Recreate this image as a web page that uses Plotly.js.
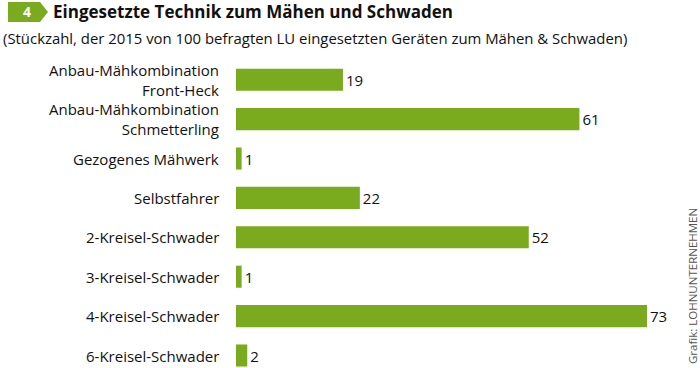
<!DOCTYPE html>
<html><head><meta charset="utf-8">
<script src="https://cdn.plot.ly/plotly-3.0.1.min.js"></script>
<style>html,body{margin:0;padding:0;background:#fff}#c{width:700px;height:368px}</style>
</head><body><div id="c"></div>
<script>
const categories = [
  "Anbau-Mähkombination<br>Front-Heck",
  "Anbau-Mähkombination<br>Schmetterling",
  "Gezogenes Mähwerk",
  "Selbstfahrer",
  "2-Kreisel-Schwader",
  "3-Kreisel-Schwader",
  "4-Kreisel-Schwader",
  "6-Kreisel-Schwader"
];
const values = [19, 61, 1, 22, 52, 1, 73, 2];
const titleText = "Eingesetzte Technik zum Mähen und Schwaden";
const subtitleText = "(Stückzahl, der 2015 von 100 befragten LU eingesetzten Geräten zum Mähen & Schwaden)";
const badgeText = "4";
const sourceText = "Grafik: LOHNUNTERNEHMEN";

const W = 700, H = 368, ML = 236, MR = 40, MT = 60, MB = 0;
const PW = W - ML - MR, PH = H - MT - MB;
const px = x => (x - ML) / PW;
const py = y => (H - MB - y) / PH;
const green = "#7aab1f";
const font = "'Open Sans', Lato, sans-serif";

const trace = {
  type: "bar", orientation: "h",
  y: categories, x: values,
  marker: {color: green},
  width: 0.56,
  text: values.map(String),
  textposition: "outside",
  textfont: {family: font, size: 15, color: "#111"},
  cliponaxis: false,
  hoverinfo: "skip"
};

const catLabels = categories.map(c => ({
  text: c, xref: "paper", yref: "y", x: px(221), y: c,
  xanchor: "right", yanchor: "middle", align: "right", showarrow: false,
  font: {family: font, size: 15, color: "#111"}
}));

const layout = {
  width: W, height: H,
  margin: {l: ML, r: MR, t: MT, b: MB, pad: 0},
  paper_bgcolor: "#fff", plot_bgcolor: "#fff",
  showlegend: false,
  xaxis: {range: [0, PW / 5.63], visible: false, fixedrange: true},
  yaxis: {
    type: "category", categoryorder: "array", categoryarray: categories,
    range: [-0.5 + PH / 39.4, -0.5],
    showgrid: false, zeroline: false, showline: false, ticks: "",
    showticklabels: false
  },
  shapes: [{
    type: "path", xref: "paper", yref: "paper",
    path: `M ${px(8)} ${py(2)} L ${px(40)} ${py(2)} L ${px(48)} ${py(12)} L ${px(40)} ${py(22)} L ${px(8)} ${py(22)} Z`,
    fillcolor: green, line: {width: 0}
  }],
  annotations: [
    {text: "<b>" + badgeText + "</b>", xref: "paper", yref: "paper", x: px(27), y: py(12),
     xanchor: "center", yanchor: "middle", showarrow: false,
     font: {family: font, size: 14, color: "#fff"}},
    {text: "<b>" + titleText + "</b>", xref: "paper", yref: "paper", x: px(51), y: py(12),
     xanchor: "left", yanchor: "middle", showarrow: false,
     font: {family: font, size: 17, color: "#111"}},
    {text: subtitleText, xref: "paper", yref: "paper", x: px(1), y: py(38),
     xanchor: "left", yanchor: "middle", showarrow: false,
     font: {family: font, size: 14.9, color: "#111"}},
    {text: sourceText, xref: "paper", yref: "paper", x: px(692), y: py(366),
     xanchor: "center", yanchor: "bottom", textangle: -90, showarrow: false,
     font: {family: font, size: 11.5, color: "#555"}}
  ].concat(catLabels)
};

Plotly.newPlot("c", [trace], layout, {displayModeBar: false, staticPlot: true});
</script></body></html>
